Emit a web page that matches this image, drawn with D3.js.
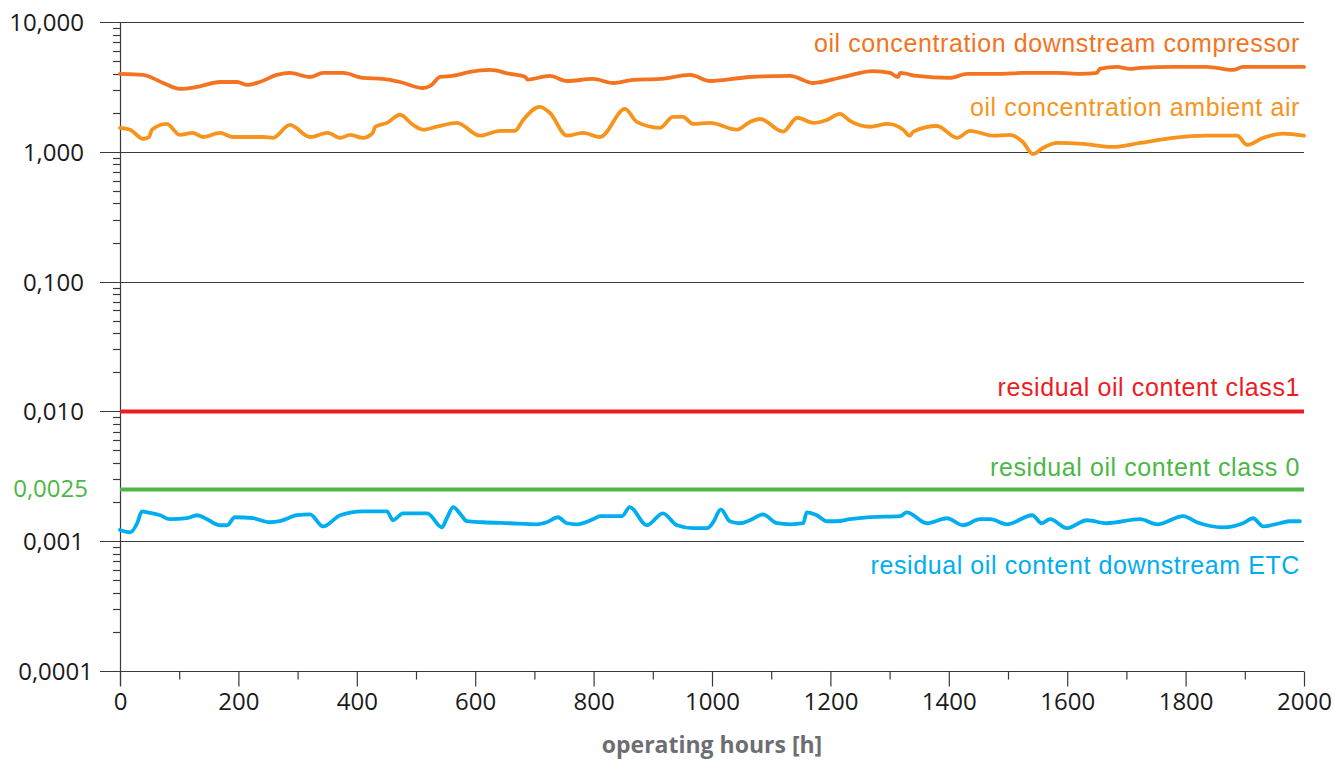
<!DOCTYPE html>
<html>
<head>
<meta charset="utf-8">
<script src="https://cdn.jsdelivr.net/npm/d3@7"></script>
<style>
  body { margin: 0; background: #fff; }
  svg { display: block; }
</style>
</head>
<body>
<script>
// data (hours, concentration)
var compressorHours = [0,39,73,101,130,169,198,215,236,265,287,321,343,377,410,444,473,512,524,541,562,591,625,659,685,688,726,755,799,833,867,912,963,997,1064,1132,1171,1221,1272,1301,1314,1318,1346,1402,1431,1486,1525,1583,1622,1650,1655,1684,1706,1723,1779,1836,1880,1897,1948,2000];
var compressorValues = [3.98,3.91,3.39,3.05,3.16,3.45,3.45,3.28,3.45,3.91,4.05,3.77,4.05,4.05,3.71,3.64,3.45,3.10,3.22,3.77,3.84,4.12,4.27,3.98,3.77,3.60,3.84,3.51,3.64,3.39,3.58,3.64,3.91,3.51,3.77,3.84,3.39,3.77,4.19,4.05,3.77,4.05,3.84,3.71,3.98,3.98,4.05,4.05,3.98,4.05,4.35,4.51,4.35,4.43,4.51,4.51,4.27,4.51,4.51,4.51];

var ambientHours = [0,17,39,49,54,79,101,123,140,169,191,242,258,287,321,351,372,389,410,427,431,451,473,495,512,535,569,608,642,667,681,709,726,755,782,811,853,873,912,934,951,968,997,1042,1064,1081,1120,1144,1171,1194,1216,1233,1267,1296,1323,1334,1340,1380,1414,1436,1475,1503,1525,1542,1559,1583,1627,1677,1723,1779,1836,1887,1904,1931,1965,2000];
var ambientValues = [1.53,1.48,1.26,1.30,1.48,1.64,1.35,1.40,1.30,1.40,1.30,1.30,1.28,1.61,1.30,1.40,1.28,1.35,1.28,1.40,1.56,1.67,1.93,1.61,1.48,1.56,1.67,1.33,1.45,1.45,1.76,2.22,2.00,1.33,1.40,1.30,2.14,1.70,1.53,1.86,1.86,1.64,1.67,1.48,1.70,1.79,1.43,1.83,1.67,1.76,1.96,1.73,1.56,1.64,1.48,1.33,1.43,1.58,1.28,1.45,1.33,1.35,1.19,0.96,1.07,1.17,1.15,1.09,1.17,1.28,1.33,1.33,1.13,1.28,1.38,1.33];

var etcHours = [0,17,29,37,46,68,84,113,130,147,169,181,194,225,253,270,299,321,343,372,410,451,461,478,519,544,552,563,574,586,613,659,704,721,740,755,772,799,811,848,861,890,917,941,968,992,1002,1015,1030,1047,1064,1086,1110,1132,1154,1160,1177,1194,1211,1233,1267,1318,1329,1363,1397,1424,1453,1470,1498,1541,1557,1571,1600,1633,1667,1723,1752,1796,1819,1863,1897,1914,1931,1959,1976,1993];
var etcValues = [0.00122,0.00117,0.001375,0.00170,0.00167,0.001585,0.001477,0.001503,0.001585,0.001477,0.001327,0.001327,0.00153,0.001503,0.00140,0.001425,0.001585,0.00161,0.00130,0.001585,0.00170,0.00170,0.00145,0.00164,0.00164,0.00128,0.001503,0.00183,0.00164,0.001425,0.00140,0.001375,0.00135,0.00140,0.00153,0.001375,0.00135,0.001477,0.00156,0.00156,0.00183,0.001327,0.00164,0.001327,0.00126,0.00126,0.00140,0.00176,0.001425,0.001375,0.00145,0.00161,0.001375,0.00135,0.001375,0.00167,0.001585,0.001425,0.001425,0.001477,0.00153,0.00156,0.00167,0.001375,0.001503,0.001327,0.001477,0.001477,0.00135,0.001585,0.001375,0.001477,0.00126,0.00145,0.001375,0.001477,0.00135,0.00156,0.00140,0.00128,0.001375,0.001503,0.00130,0.001375,0.001425,0.001425];

var class1Limit = 0.01,
    class0Limit = 0.0025;

var yMajorTicks = [10, 1, 0.1, 0.01, 0.001, 0.0001];
var yTickLabels = ["10,000", "1,000", "0,100", "0,010", "0,001", "0,0001"];

var width = 1340,
    height = 760,
    margin = {left:120, right:36, top:22, bottom:89};

var x = d3.scaleLinear()
    .domain([0, 2000])
    .range([margin.left, width - margin.right]);

var y = d3.scaleLog()
    .domain([0.0001, 10])
    .range([height - margin.bottom, margin.top]);

var svg = d3.select("body").append("svg")
    .attr("width", width)
    .attr("height", height);

var tickFont = "'Open Sans', 'DejaVu Sans', sans-serif";
var labelFont = "'Liberation Sans', Arial, sans-serif";

// horizontal grid at each decade
svg.append("g").selectAll("line")
  .data(yMajorTicks)
  .enter().append("line")
    .attr("x1", margin.left - 20)
    .attr("x2", x(2000))
    .attr("y1", function(d){ return Math.round(y(d)) + 0.5; })
    .attr("y2", function(d){ return Math.round(y(d)) + 0.5; })
    .attr("stroke", "#3a3a3a")
    .attr("stroke-width", 1.2);

// minor log ticks on the left of the y axis
var minorTicks = [];
[0.0001, 0.001, 0.01, 0.1, 1].forEach(function(base){
  for (var k = 2; k <= 9; k++) minorTicks.push(base * k);
});
svg.append("g").selectAll("line")
  .data(minorTicks)
  .enter().append("line")
    .attr("x1", margin.left - 7)
    .attr("x2", margin.left)
    .attr("y1", function(d){ return Math.round(y(d)) + 0.5; })
    .attr("y2", function(d){ return Math.round(y(d)) + 0.5; })
    .attr("stroke", "#3a3a3a")
    .attr("stroke-width", 1.2);

// y axis line
svg.append("line")
  .attr("x1", margin.left + 0.5).attr("x2", margin.left + 0.5)
  .attr("y1", y(10)).attr("y2", y(0.0001) + 15)
  .attr("stroke", "#3a3a3a").attr("stroke-width", 1.2);

// x axis ticks
var xAxis = d3.axisBottom(x)
    .tickValues(d3.range(0, 2001, 100))
    .tickSizeOuter(0)
    .tickFormat(function(d){ return d % 200 === 0 ? d : ""; });

var xg = svg.append("g")
  .attr("transform", "translate(0," + (Math.round(y(0.0001)) + 0.5) + ")")
  .call(xAxis);
xg.select(".domain").remove();
xg.selectAll(".tick line")
  .attr("stroke", "#3a3a3a")
  .attr("stroke-width", 1.2)
  .attr("y2", function(d){ return d % 200 === 0 ? 15 : 8; });
xg.selectAll(".tick text")
  .attr("y", 21)
  .attr("dy", "0.71em")
  .attr("fill", "#1a1a1a")
  .style("font-family", tickFont)
  .style("font-size", "24px");

// y tick labels
svg.append("g").selectAll("text")
  .data(yMajorTicks)
  .enter().append("text")
    .attr("x", function(d){ return d === 0.0001 ? 93 : 84; })
    .attr("y", function(d){ return y(d) + 9; })
    .attr("text-anchor", "end")
    .attr("fill", "#1a1a1a")
    .style("font-family", tickFont)
    .style("font-size", "24px")
    .text(function(d, i){ return yTickLabels[i]; });

svg.append("text")
  .attr("x", 88)
  .attr("y", y(class0Limit) + 7)
  .attr("text-anchor", "end")
  .attr("fill", "#4cb748")
  .style("font-family", tickFont)
  .style("font-size", "24px")
  .text("0,0025");

// axis title
svg.append("text")
  .attr("x", (x(0) + x(2000)) / 2)
  .attr("y", 753)
  .attr("text-anchor", "middle")
  .attr("fill", "#6d6e71")
  .style("font-family", tickFont)
  .style("font-weight", "bold")
  .style("font-size", "23px")
  .text("operating hours [h]");

// limit lines
svg.append("line")
  .attr("x1", x(0)).attr("x2", x(2000))
  .attr("y1", y(class1Limit)).attr("y2", y(class1Limit))
  .attr("stroke", "#ed1c24").attr("stroke-width", 4);
svg.append("line")
  .attr("x1", x(0)).attr("x2", x(2000))
  .attr("y1", y(class0Limit)).attr("y2", y(class0Limit))
  .attr("stroke", "#4cb748").attr("stroke-width", 4);

// measured series
var line = d3.line()
  .x(function(d){ return x(d[0]); })
  .y(function(d){ return y(d[1]); })
  .curve(d3.curveMonotoneX);

var series = [
  {hours: compressorHours, values: compressorValues, color: "#f47321"},
  {hours: ambientHours, values: ambientValues, color: "#f7941d"},
  {hours: etcHours, values: etcValues, color: "#00aeef"}
];

svg.append("g").selectAll("path")
  .data(series)
  .enter().append("path")
    .attr("d", function(s){ return line(d3.zip(s.hours, s.values)); })
    .attr("fill", "none")
    .attr("stroke", function(s){ return s.color; })
    .attr("stroke-width", 3.8)
    .attr("stroke-linejoin", "round")
    .attr("stroke-linecap", "round");

// series labels
var labels = [
  {text: "oil concentration downstream compressor", y: 52, color: "#f47321"},
  {text: "oil concentration ambient air", y: 116, color: "#f7941d"},
  {text: "residual oil content class1", y: 396, color: "#ed1c24"},
  {text: "residual oil content class 0", y: 476, color: "#4cb748"},
  {text: "residual oil content downstream ETC", y: 574, color: "#00aeef"}
];

svg.append("g").selectAll("text")
  .data(labels)
  .enter().append("text")
    .attr("x", 1300)
    .attr("y", function(d){ return d.y; })
    .attr("text-anchor", "end")
    .attr("fill", function(d){ return d.color; })
    .style("font-family", labelFont)
    .style("font-size", "25px")
    .style("letter-spacing", "0.6px")
    .text(function(d){ return d.text; });
</script>
</body>
</html>
